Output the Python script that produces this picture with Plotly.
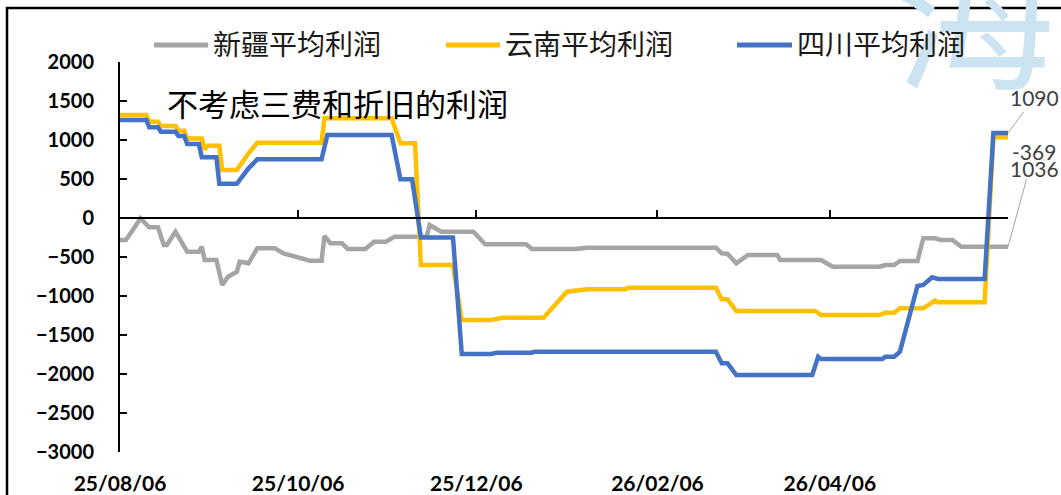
import plotly.graph_objects as go

# ---- data -------------------------------------------------------------
series_names = ["新疆平均利润", "云南平均利润", "四川平均利润"]

xj_dates = [
    "2025-08-06", "2025-08-08", "2025-08-10", "2025-08-13", "2025-08-16", "2025-08-19",
    "2025-08-21", "2025-08-22", "2025-08-25", "2025-08-29", "2025-09-02", "2025-09-03",
    "2025-09-04", "2025-09-08", "2025-09-10", "2025-09-12", "2025-09-15", "2025-09-16",
    "2025-09-19", "2025-09-22", "2025-09-28", "2025-10-01", "2025-10-10", "2025-10-14",
    "2025-10-15", "2025-10-17", "2025-10-21", "2025-10-23", "2025-10-29", "2025-11-01",
    "2025-11-05", "2025-11-08", "2025-11-19", "2025-11-20", "2025-11-24", "2025-12-05",
    "2025-12-09", "2025-12-23", "2025-12-25", "2026-01-09", "2026-01-13", "2026-02-26",
    "2026-02-28", "2026-03-02", "2026-03-05", "2026-03-09", "2026-03-19", "2026-03-20",
    "2026-04-03", "2026-04-07", "2026-04-23", "2026-04-25", "2026-04-28", "2026-04-30",
    "2026-05-06", "2026-05-08", "2026-05-12", "2026-05-14", "2026-05-18", "2026-05-21",
    "2026-06-06",
]
xj_values = [
    -282, -282, -176, -4, -119, -119,
    -346, -346, -176, -432, -432, -368,
    -538, -538, -859, -753, -688, -560,
    -581, -388, -388, -453, -547, -547,
    -231, -324, -324, -397, -397, -304,
    -304, -240, -240, -90, -176, -176,
    -337, -337, -397, -397, -381, -381,
    -453, -460, -581, -474, -474, -538,
    -538, -624, -624, -603, -603, -551,
    -551, -260, -260, -282, -282, -369,
    -369,
]

yn_dates = [
    "2025-08-06", "2025-08-15", "2025-08-16", "2025-08-19", "2025-08-20", "2025-08-25",
    "2025-08-26", "2025-08-28", "2025-08-29", "2025-09-03", "2025-09-04", "2025-09-05",
    "2025-09-09", "2025-09-10", "2025-09-15", "2025-09-19", "2025-09-22", "2025-10-14",
    "2025-10-15", "2025-11-07", "2025-11-10", "2025-11-15", "2025-11-17", "2025-11-28",
    "2025-12-01", "2025-12-11", "2025-12-15", "2025-12-29", "2026-01-06", "2026-01-13",
    "2026-01-26", "2026-01-27", "2026-02-26", "2026-02-28", "2026-03-02", "2026-03-05",
    "2026-04-01", "2026-04-03", "2026-04-23", "2026-04-25", "2026-04-28", "2026-04-30",
    "2026-05-08", "2026-05-12", "2026-05-13", "2026-05-29", "2026-06-01", "2026-06-06",
]
yn_values = [
    1320, 1320, 1235, 1235, 1180, 1180,
    1120, 1120, 1020, 1020, 880, 925,
    925, 615, 615, 830, 965, 965,
    1278, 1278, 958, 958, -603, -603,
    -1308, -1308, -1278, -1278, -945, -914,
    -914, -894, -894, -1042, -1042, -1192,
    -1192, -1244, -1244, -1214, -1214, -1158,
    -1158, -1060, -1081, -1081, 1036, 1036,
]

sc_dates = [
    "2025-08-06", "2025-08-15", "2025-08-16", "2025-08-19", "2025-08-20", "2025-08-25",
    "2025-08-26", "2025-08-28", "2025-08-29", "2025-09-02", "2025-09-03", "2025-09-08",
    "2025-09-09", "2025-09-15", "2025-09-19", "2025-09-22", "2025-10-14", "2025-10-16",
    "2025-11-07", "2025-11-10", "2025-11-14", "2025-11-17", "2025-11-28", "2025-12-01",
    "2025-12-11", "2025-12-13", "2025-12-25", "2025-12-26", "2026-02-26", "2026-02-28",
    "2026-03-02", "2026-03-05", "2026-03-31", "2026-04-02", "2026-04-03", "2026-04-24",
    "2026-04-25", "2026-04-28", "2026-04-30", "2026-05-06", "2026-05-08", "2026-05-11",
    "2026-05-13", "2026-05-29", "2026-06-01", "2026-06-06",
]
sc_values = [
    1256, 1256, 1163, 1163, 1106, 1106,
    1051, 1051, 949, 949, 778, 778,
    438, 438, 637, 752, 752, 1064,
    1064, 496, 496, -250, -250, -1744,
    -1744, -1727, -1727, -1714, -1714, -1863,
    -1863, -2013, -2013, -1778, -1808, -1808,
    -1778, -1778, -1714, -872, -859, -760,
    -782, -782, 1090, 1090,
]

x_range = ["2025-08-06", "2026-06-06"]
x_tick_vals = ["2025-08-06", "2025-10-06", "2025-12-06", "2026-02-06", "2026-04-06", "2026-06-06"]
x_tick_text = ["25/08/06", "25/10/06", "25/12/06", "26/02/06", "26/04/06", ""]
y_range = [-3000, 2000]
subtitle = "不考虑三费和折旧的利润"
watermark = "海证"

# ---- styling ----------------------------------------------------------
colors = ["#A5A5A5", "#FFC000", "#4472C4"]
CJK = "Noto Sans CJK SC"
NUM = "Lato"
W, H = 1061, 495
L, R, T, B = 120, 53, 62, 43
PW, PH = W - L - R, H - T - B


def px_x(px):
    return (px - L) / PW


def px_y(py):
    return (H - B - py) / PH


fig = go.Figure()

series = [
    (xj_dates, xj_values),
    (yn_dates, yn_values),
    (sc_dates, sc_values),
]
for (xs, ys), name, col in zip(series, series_names, colors):
    fig.add_trace(go.Scatter(
        x=xs, y=ys, name=name, mode="lines",
        line=dict(color=col, width=4.5),
        showlegend=False, cliponaxis=False,
    ))

# empty trace so the zero-crossing axis is drawn
fig.add_trace(go.Scatter(x=[], y=[], xaxis="x2", showlegend=False, hoverinfo="skip"))

annotations = []
shapes = []

# watermark behind everything else
annotations.append(dict(
    text=watermark, xref="paper", yref="paper",
    x=px_x(893), y=px_y(8), xanchor="left", yanchor="middle",
    showarrow=False, font=dict(family=CJK, size=160, color="#CCE4F2"),
))

# hand-drawn legend (longer line samples)
legend_sample_x = [(154, 208), (446, 500), (737, 792)]
for (x0, x1), name, col in zip(legend_sample_x, series_names, colors):
    shapes.append(dict(
        type="line", xref="paper", yref="paper",
        x0=px_x(x0), x1=px_x(x1), y0=px_y(45), y1=px_y(45),
        line=dict(color=col, width=5), layer="above",
    ))
    annotations.append(dict(
        text=name, xref="paper", yref="paper",
        x=px_x(x1 + 3), y=px_y(43), xanchor="left", yanchor="middle",
        showarrow=False, font=dict(family=CJK, size=28, color="#1a1a1a"),
    ))

annotations.append(dict(
    text=subtitle, xref="paper", yref="paper",
    x=px_x(337), y=px_y(103), xanchor="center", yanchor="middle",
    showarrow=False, font=dict(family=CJK, size=31, color="#000000"),
))

# end-of-series value labels
label_font = dict(family=NUM, size=21, color="#404040")
annotations.append(dict(
    text=f"{sc_values[-1]:d}", x=sc_dates[-1], y=sc_values[-1], xref="x", yref="y",
    showarrow=True, arrowhead=0, arrowwidth=1, arrowcolor="#A5A5A5",
    ax=26, ay=-35, font=label_font,
))
annotations.append(dict(
    text=f"{xj_values[-1]:d}", x=xj_dates[-1], y=xj_values[-1], xref="x", yref="y",
    showarrow=True, arrowhead=0, arrowwidth=1, arrowcolor="#A5A5A5",
    ax=26, ay=-95, startstandoff=14, font=label_font,
))
annotations.append(dict(
    text=f"{yn_values[-1]:d}", x=yn_dates[-1], y=yn_values[-1], xref="x", yref="y",
    showarrow=False, xshift=26, yshift=-31, font=label_font,
))

# outer chart frame (extends past the right and bottom edges)
shapes.append(dict(
    type="rect", xref="paper", yref="paper",
    x0=px_x(7), x1=px_x(W + 20), y0=px_y(H + 20), y1=px_y(8),
    line=dict(color="#000000", width=2.5), fillcolor="rgba(0,0,0,0)", layer="above",
))

fig.update_layout(
    width=W, height=H,
    margin=dict(l=L, r=R, t=T, b=B, pad=0, autoexpand=False),
    paper_bgcolor="white", plot_bgcolor="white",
    showlegend=False,
    xaxis=dict(
        type="date", range=x_range, tickvals=x_tick_vals, ticktext=x_tick_text,
        showline=False, ticks="", showgrid=False, zeroline=False, automargin=False,
        tickfont=dict(family=NUM, size=21, color="#000000", weight="bold"),
        ticklabelstandoff=17,
    ),
    xaxis2=dict(
        type="date", range=x_range, overlaying="x", anchor="free",
        position=(0 - y_range[0]) / (y_range[1] - y_range[0]), side="bottom",
        showline=True, linecolor="#000000", linewidth=2, automargin=False,
        ticks="inside", ticklen=7, tickwidth=2, tickcolor="#000000",
        tickvals=x_tick_vals, showticklabels=False, showgrid=False, zeroline=False,
    ),
    yaxis=dict(
        range=y_range, dtick=500, tick0=0, automargin=False,
        showline=True, linecolor="#000000", linewidth=2,
        ticks="inside", ticklen=7, tickwidth=2, tickcolor="#000000",
        showgrid=False, zeroline=False,
        tickfont=dict(family=NUM, size=20, color="#000000", weight="bold"),
        ticklabelstandoff=20,
    ),
    annotations=annotations,
    shapes=shapes,
)

fig.write_html("out.html")
